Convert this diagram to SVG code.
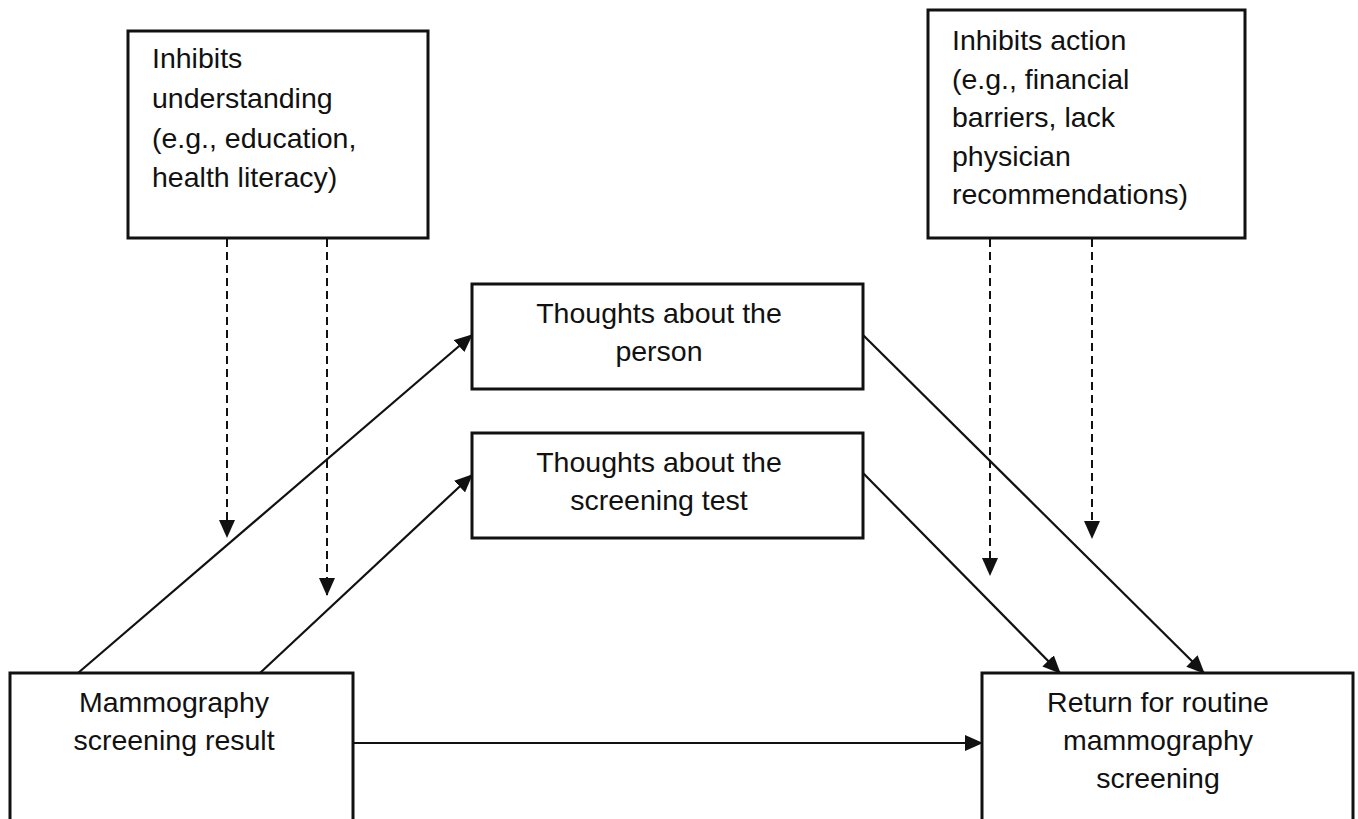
<svg xmlns="http://www.w3.org/2000/svg" width="1358" height="819" viewBox="0 0 1358 819">
<defs>
<style>
.box{fill:#fff;stroke:#111;stroke-width:3}
.t{font-family:"Liberation Sans",Arial,sans-serif;font-size:28.5px;fill:#111}
.c{text-anchor:middle}
.ln{stroke:#111;stroke-width:2.2;fill:none}
.dash{stroke:#111;stroke-width:2;fill:none;stroke-dasharray:8 5}
</style>
<marker id="ah" markerUnits="userSpaceOnUse" markerWidth="18" markerHeight="16" refX="17" refY="8" orient="auto">
<path d="M0,0 L18,8 L0,16 Z" fill="#111"/>
</marker>
</defs>
<rect width="1358" height="819" fill="#fff"/>
<g id="connectors">
<line class="dash" x1="227" y1="239" x2="227" y2="537" marker-end="url(#ah)"/>
<line class="dash" x1="327" y1="239" x2="327" y2="595" marker-end="url(#ah)"/>
<line class="dash" x1="990" y1="239" x2="990" y2="575" marker-end="url(#ah)"/>
<line class="dash" x1="1092" y1="239" x2="1092" y2="538" marker-end="url(#ah)"/>
<line class="ln" x1="78" y1="673" x2="472" y2="335" marker-end="url(#ah)"/>
<line class="ln" x1="260" y1="673" x2="472" y2="475" marker-end="url(#ah)"/>
<line class="ln" x1="863" y1="335" x2="1204" y2="673" marker-end="url(#ah)"/>
<line class="ln" x1="863" y1="473" x2="1060" y2="673" marker-end="url(#ah)"/>
<line class="ln" x1="353" y1="743" x2="982" y2="743" marker-end="url(#ah)"/>
</g>
<g id="inhibits-understanding">
<rect class="box" x="128" y="31" width="300" height="207"/>
<text class="t" x="152" y="68">Inhibits</text>
<text class="t" x="152" y="108">understanding</text>
<text class="t" x="152" y="148">(e.g., education,</text>
<text class="t" x="152" y="187">health literacy)</text>
</g>
<g id="inhibits-action">
<rect class="box" x="928" y="10" width="317" height="228"/>
<text class="t" x="952" y="50">Inhibits action</text>
<text class="t" x="952" y="89">(e.g., financial</text>
<text class="t" x="952" y="127">barriers, lack</text>
<text class="t" x="952" y="166">physician</text>
<text class="t" x="952" y="204">recommendations)</text>
</g>
<g id="thoughts-person">
<rect class="box" x="472" y="284" width="391" height="105"/>
<text class="t c" x="659" y="323">Thoughts about the</text>
<text class="t c" x="659" y="361">person</text>
</g>
<g id="thoughts-test">
<rect class="box" x="472" y="433" width="391" height="105"/>
<text class="t c" x="659" y="472">Thoughts about the</text>
<text class="t c" x="659" y="510">screening test</text>
</g>
<g id="mammography-result">
<rect class="box" x="10" y="673" width="343" height="160"/>
<text class="t c" x="174" y="712">Mammography</text>
<text class="t c" x="174" y="750">screening result</text>
</g>
<g id="return-screening">
<rect class="box" x="982" y="673" width="371" height="160"/>
<text class="t c" x="1158" y="712">Return for routine</text>
<text class="t c" x="1158" y="750">mammography</text>
<text class="t c" x="1158" y="788">screening</text>
</g>
</svg>
